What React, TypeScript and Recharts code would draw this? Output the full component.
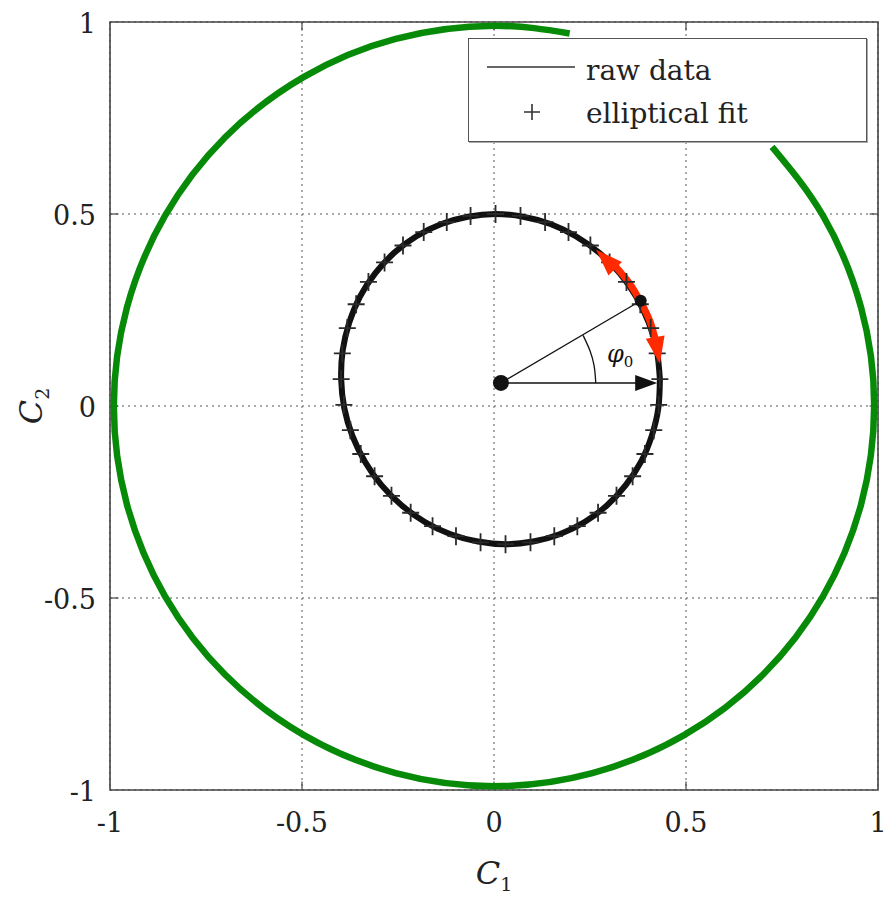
import {
  ComposedChart,
  Line,
  Scatter,
  XAxis,
  YAxis,
  CartesianGrid,
  ReferenceArea,
  ReferenceLine,
  ReferenceDot,
  Legend,
} from 'recharts'

// ── Palette / type ────────────────────────────────────────────────────────────

const GREEN = '#078a07'
const RED = '#ff2a00'
const INK = '#111'
const TEXT = '#222'
const GRID = '#8f8f8f'
const SERIF = "'DejaVu Serif', 'Liberation Serif', serif"

// ── Data ──────────────────────────────────────────────────────────────────────

const X_TICKS = [-1, -0.5, 0, 0.5, 1]
const Y_TICKS = [-1, -0.5, 0, 0.5, 1]
const INNER_TICKS = [-0.5, 0, 0.5]

// outer green trajectory (open where the legend sits)
const OUTER_PATH: [number, number][] = [
  [0.197, 0.97], [0, 0.99], [-0.256, 0.956], [-0.495, 0.857], [-0.7, 0.7],
  [-0.857, 0.495], [-0.956, 0.256], [-0.99, 0], [-0.956, -0.256], [-0.857, -0.495],
  [-0.7, -0.7], [-0.495, -0.857], [-0.256, -0.956], [0, -0.99], [0.256, -0.956],
  [0.495, -0.857], [0.7, -0.7], [0.857, -0.495], [0.956, -0.256], [0.99, 0],
  [0.956, 0.256], [0.857, 0.495], [0.724, 0.675],
]

// raw data (black loop)
const RAW_DATA: [number, number][] = [
  [0.432, 0.07], [0.424, 0.145], [0.403, 0.217], [0.37, 0.285], [0.327, 0.346],
  [0.274, 0.399], [0.213, 0.442], [0.147, 0.474], [0.076, 0.493], [0.004, 0.5],
  [-0.068, 0.493], [-0.137, 0.474], [-0.202, 0.442], [-0.26, 0.399], [-0.309, 0.346],
  [-0.349, 0.285], [-0.377, 0.217], [-0.394, 0.145], [-0.398, 0.07], [-0.39, -0.005],
  [-0.369, -0.077], [-0.336, -0.145], [-0.293, -0.206], [-0.24, -0.259], [-0.18, -0.302],
  [-0.113, -0.334], [-0.042, -0.353], [0.03, -0.36], [0.102, -0.353], [0.171, -0.334],
  [0.236, -0.302], [0.294, -0.259], [0.343, -0.206], [0.383, -0.145], [0.411, -0.077],
  [0.428, -0.005], [0.432, 0.07],
]

// elliptical fit samples (+ markers)
const ELLIPTICAL_FIT: [number, number][] = [
  [0.432, 0.07], [0.425, 0.137], [0.408, 0.203], [0.381, 0.265], [0.345, 0.323],
  [0.301, 0.374], [0.251, 0.418], [0.194, 0.453], [0.133, 0.479], [0.069, 0.495],
  [0.004, 0.5], [-0.061, 0.495], [-0.123, 0.479], [-0.183, 0.453], [-0.237, 0.418],
  [-0.285, 0.374], [-0.327, 0.323], [-0.359, 0.265], [-0.382, 0.203], [-0.395, 0.137],
  [-0.398, 0.07], [-0.391, 0.003], [-0.374, -0.063], [-0.347, -0.125], [-0.311, -0.183],
  [-0.267, -0.234], [-0.217, -0.278], [-0.16, -0.313], [-0.099, -0.339], [-0.035, -0.355],
  [0.03, -0.36], [0.095, -0.355], [0.157, -0.339], [0.217, -0.313], [0.271, -0.278],
  [0.319, -0.234], [0.361, -0.183], [0.393, -0.125], [0.416, -0.063], [0.429, 0.003],
]

const CENTER = { x: 0.018, y: 0.06 }
const RING_POINT = { x: 0.382, y: 0.274 }
const ZERO_ARROW_TIP = [{ x: 0.425, y: 0.06, angle: 0 }]

// angle arc for phi_0
const PHI_ARC: [number, number][] = [[0.265, 0.06], [0.261, 0.103], [0.25, 0.144], [0.232, 0.184]]
const PHI_LABEL = [{ x: 0.294, y: 0.115 }]

// red double arrow along the loop
const RED_ARC: [number, number][] = [[0.316, 0.364], [0.353, 0.319], [0.384, 0.267], [0.407, 0.218], [0.422, 0.165]]
const RED_TIPS = [
  { x: 0.266, y: 0.407, angle: -135 },
  { x: 0.432, y: 0.11, angle: 80 },
]

const LEGEND_ITEMS = ['raw data', 'elliptical fit']

const toPts = (arr: [number, number][]) => arr.map(([x, y]) => ({ x, y }))

// ── Shapes ────────────────────────────────────────────────────────────────────

function PlusMark({ cx, cy }: any) {
  return (
    <path
      d={`M${cx - 8.5},${cy}H${cx + 8.5}M${cx},${cy - 9}V${cy + 9}`}
      stroke="#2a2a2a"
      strokeWidth={1.8}
      fill="none"
    />
  )
}

function makeArrowHead(len: number, wid: number, color: string) {
  return function ArrowHead({ cx, cy, payload }: any) {
    return (
      <polygon
        points={`0,0 ${-len},${-wid / 2} ${-len},${wid / 2}`}
        transform={`translate(${cx},${cy}) rotate(${payload.angle})`}
        fill={color}
      />
    )
  }
}

const BlackHead = makeArrowHead(22, 16, INK)
const RedHead = makeArrowHead(27, 19, RED)

function PhiText({ cx, cy }: any) {
  return (
    <text x={cx} y={cy} fontFamily={SERIF} fontStyle="italic" fontSize={24} fill={INK}>
      φ
      <tspan fontSize={15} dy={5} fontStyle="normal">0</tspan>
    </text>
  )
}

function XTick({ x, y, payload }: any) {
  return (
    <text x={x} y={y + 34} textAnchor="middle" fontFamily={SERIF} fontSize={27} fill={TEXT}>
      {String(payload.value)}
    </text>
  )
}

function YTick({ x, y, payload }: any) {
  return (
    <text x={x - 6} y={y + 11} textAnchor="end" fontFamily={SERIF} fontSize={27} fill={TEXT}>
      {String(payload.value)}
    </text>
  )
}

function XLabel({ viewBox }: any) {
  const cx = viewBox.x + viewBox.width / 2
  return (
    <text x={cx} y={884} textAnchor="middle" fontFamily={SERIF} fontStyle="italic" fontSize={32} fill={TEXT}>
      C<tspan fontSize={19} dy={7} fontStyle="normal">1</tspan>
    </text>
  )
}

function YLabel() {
  return (
    <text
      x={42}
      y={406}
      transform="rotate(-90 42 406)"
      textAnchor="middle"
      fontFamily={SERIF}
      fontStyle="italic"
      fontSize={32}
      fill={TEXT}
    >
      C<tspan fontSize={19} dy={7} fontStyle="normal">2</tspan>
    </text>
  )
}

function LegendBox() {
  return (
    <div
      style={{
        width: 399,
        height: 104,
        boxSizing: 'border-box',
        border: '1.5px solid #555',
        boxShadow: '1px 1px 0 #aaa',
        background: '#fff',
      }}
    >
      <svg width={396} height={101} style={{ display: 'block' }}>
        <line x1={18} y1={28} x2={106} y2={28} stroke="#333" strokeWidth={1.5} />
        <text x={117} y={41} fontFamily={SERIF} fontSize={28} fill={TEXT}>{LEGEND_ITEMS[0]}</text>
        <path d="M55,73H71M63,65V81" stroke="#333" strokeWidth={1.6} />
        <text x={117} y={84} fontFamily={SERIF} fontSize={28} fill={TEXT}>{LEGEND_ITEMS[1]}</text>
      </svg>
    </div>
  )
}

// ── Chart ─────────────────────────────────────────────────────────────────────

export default function App() {
  return (
    <div style={{ position: 'absolute', left: 0, top: 0, background: '#fff' }}>
      <ComposedChart width={886} height={899} margin={{ top: 22, right: 8, bottom: 49, left: 50 }}>
        <CartesianGrid stroke={GRID} strokeWidth={1.5} strokeDasharray="2 4" />
        <XAxis
          type="number"
          dataKey="x"
          domain={[-1, 1]}
          ticks={X_TICKS}
          tick={<XTick />}
          tickLine={false}
          axisLine={false}
          height={60}
          label={{ content: (p: any) => <XLabel {...p} /> }}
        />
        <YAxis
          type="number"
          dataKey="y"
          domain={[-1, 1]}
          ticks={Y_TICKS}
          tick={<YTick />}
          tickLine={false}
          axisLine={false}
          width={60}
          label={{ content: () => <YLabel /> }}
        />
        <ReferenceArea x1={-1} x2={1} y1={-1} y2={1} fill="none" stroke="#444" strokeWidth={1.6} />
        {INNER_TICKS.map((v) => (
          <ReferenceLine key={`b${v}`} segment={[{ x: v, y: -1 }, { x: v, y: -0.978 }]} stroke="#444" strokeWidth={1.2} />
        ))}
        {INNER_TICKS.map((v) => (
          <ReferenceLine key={`t${v}`} segment={[{ x: v, y: 1 }, { x: v, y: 0.978 }]} stroke="#444" strokeWidth={1.2} />
        ))}
        {INNER_TICKS.map((v) => (
          <ReferenceLine key={`l${v}`} segment={[{ x: -1, y: v }, { x: -0.978, y: v }]} stroke="#444" strokeWidth={1.2} />
        ))}
        {INNER_TICKS.map((v) => (
          <ReferenceLine key={`r${v}`} segment={[{ x: 1, y: v }, { x: 0.978, y: v }]} stroke="#444" strokeWidth={1.2} />
        ))}

        <Line
          data={toPts(OUTER_PATH)}
          dataKey="y"
          type="natural"
          stroke={GREEN}
          strokeWidth={6.5}
          dot={false}
          isAnimationActive={false}
        />
        <Line
          data={toPts(RAW_DATA)}
          dataKey="y"
          type="natural"
          stroke={INK}
          strokeWidth={6}
          dot={false}
          isAnimationActive={false}
        />
        <Scatter data={toPts(ELLIPTICAL_FIT)} dataKey="y" shape={<PlusMark />} isAnimationActive={false} />

        <ReferenceLine segment={[CENTER, RING_POINT]} stroke={INK} strokeWidth={1.3} />
        <ReferenceLine segment={[CENTER, { x: 0.4, y: CENTER.y }]} stroke={INK} strokeWidth={1.5} />
        <Line
          data={toPts(PHI_ARC)}
          dataKey="y"
          type="natural"
          stroke={INK}
          strokeWidth={1.3}
          dot={false}
          isAnimationActive={false}
        />
        <Scatter data={ZERO_ARROW_TIP} dataKey="y" shape={<BlackHead />} isAnimationActive={false} />

        <Line
          data={toPts(RED_ARC)}
          dataKey="y"
          type="natural"
          stroke={RED}
          strokeWidth={7}
          dot={false}
          isAnimationActive={false}
        />
        <Scatter data={RED_TIPS} dataKey="y" shape={<RedHead />} isAnimationActive={false} />

        <ReferenceDot x={CENTER.x} y={CENTER.y} r={8} fill={INK} stroke="none" />
        <ReferenceDot x={RING_POINT.x} y={RING_POINT.y} r={6} fill={INK} stroke="none" />
        <Scatter data={PHI_LABEL} dataKey="y" shape={<PhiText />} isAnimationActive={false} />

        <Legend
          layout="vertical"
          align="center"
          verticalAlign="middle"
          wrapperStyle={{ left: 468, top: 38, width: 399, height: 104 }}
          content={() => <LegendBox />}
        />
      </ComposedChart>
    </div>
  )
}
